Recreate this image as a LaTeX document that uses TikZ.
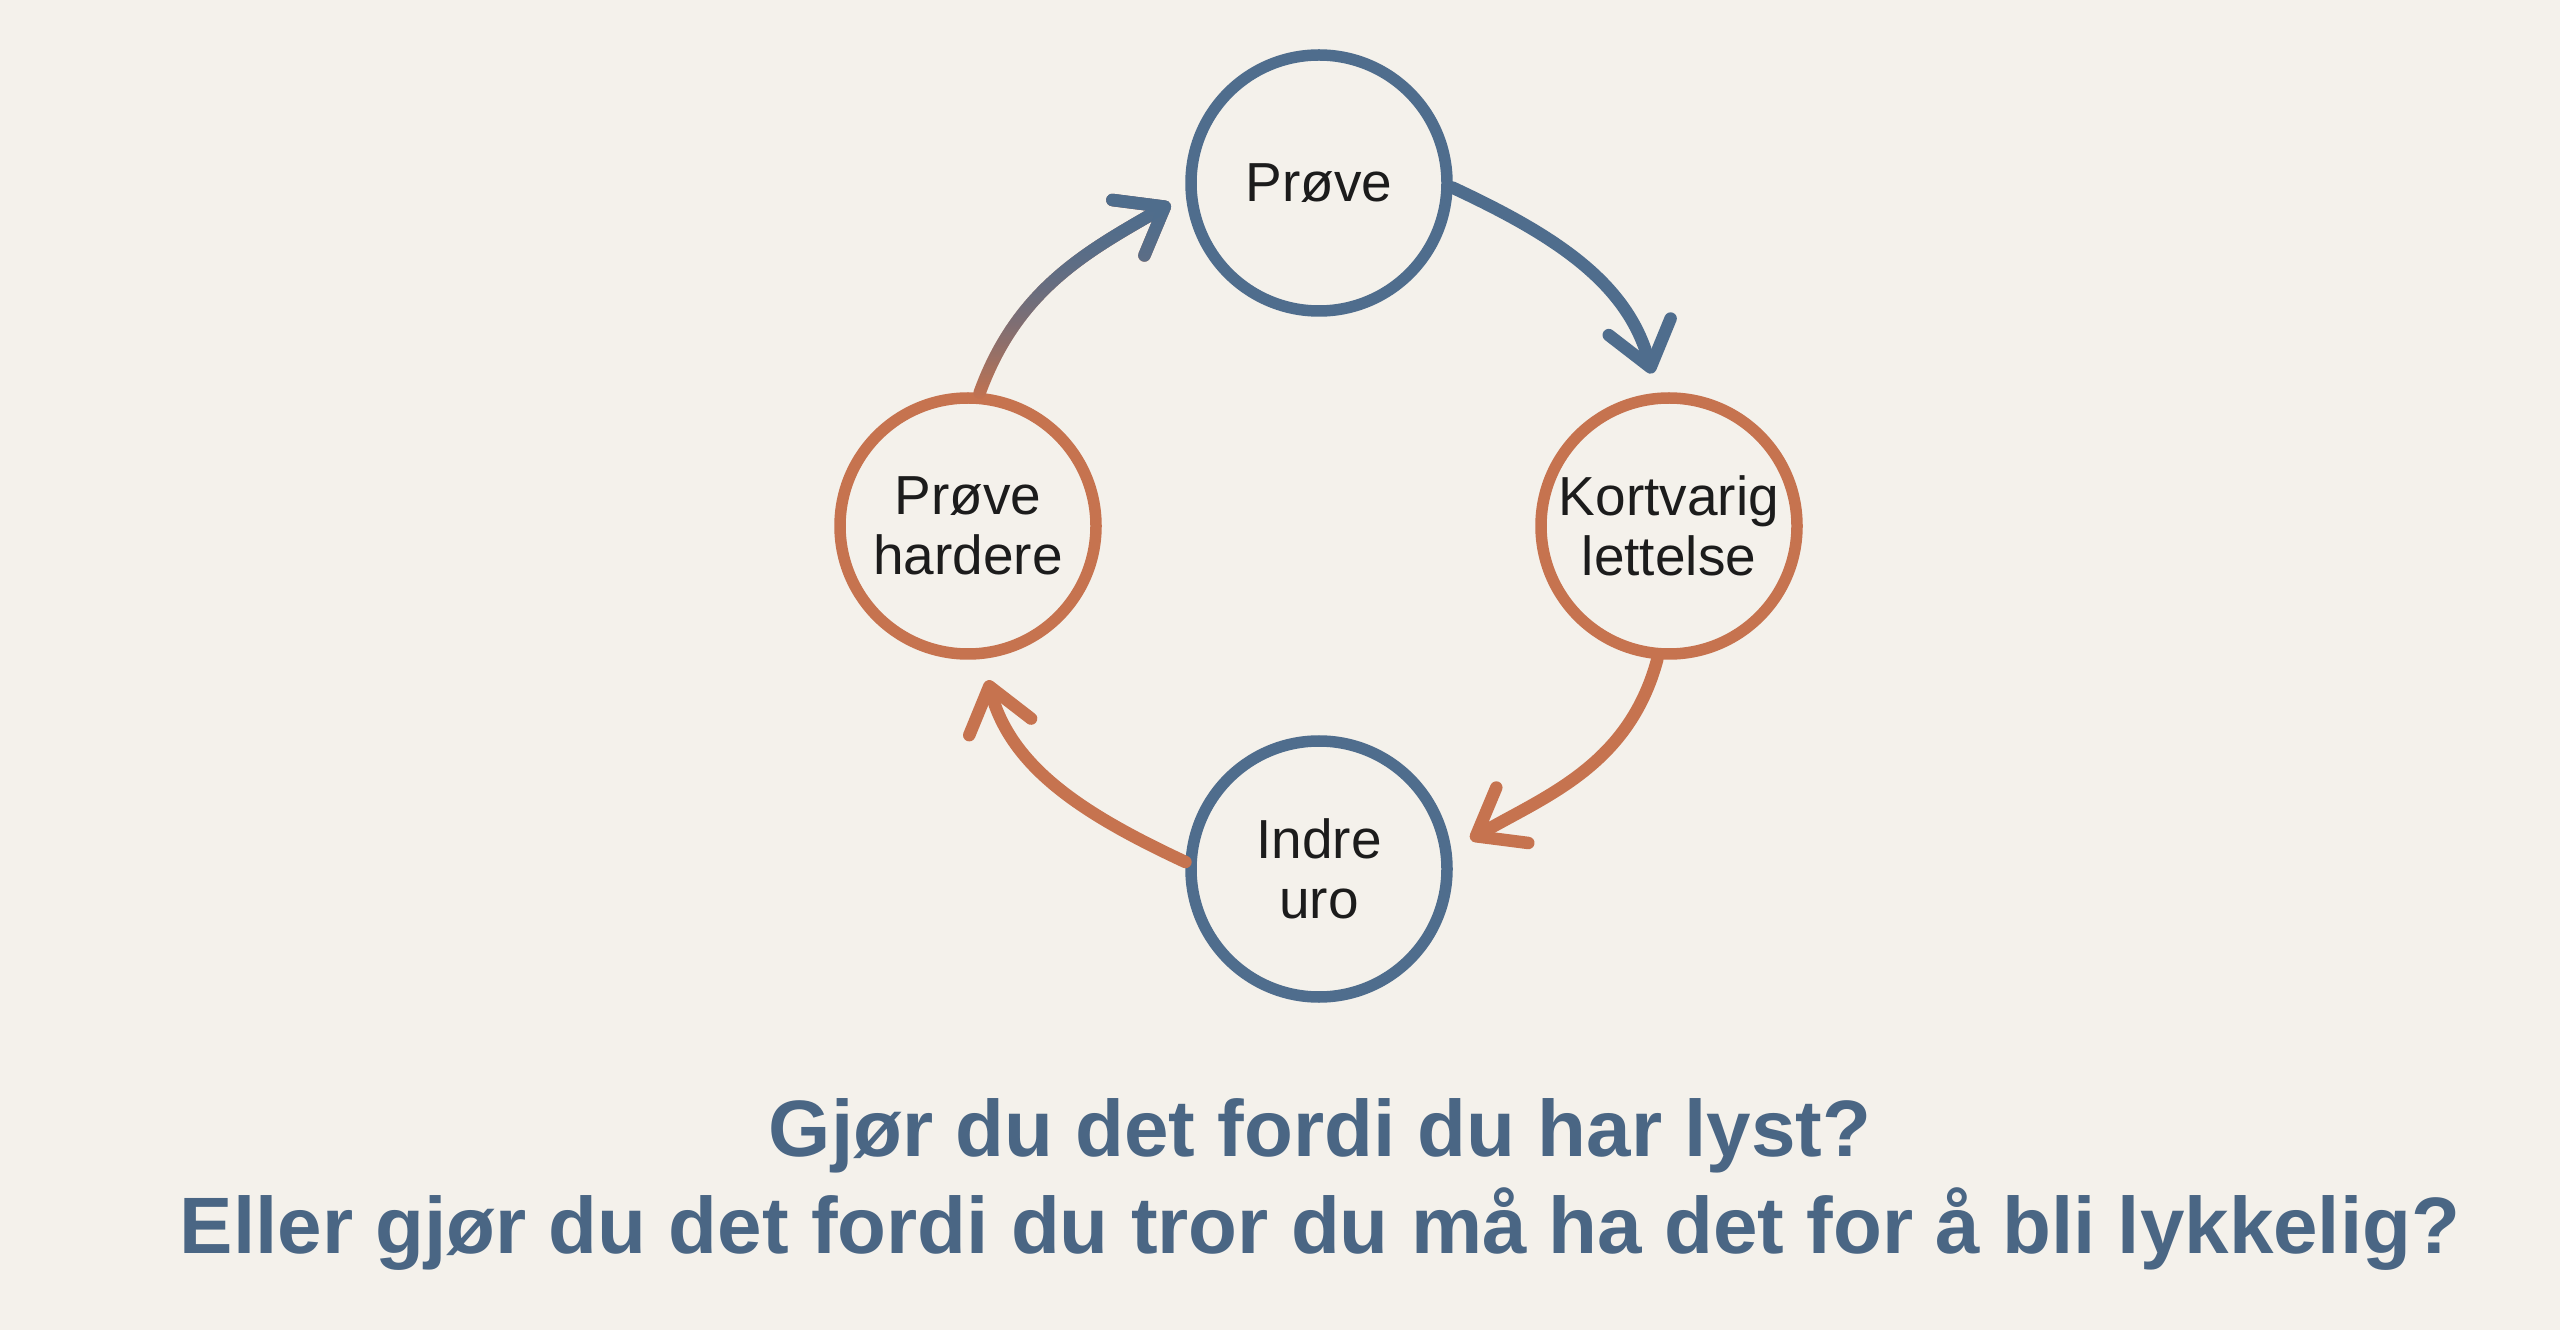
\documentclass[tikz,border=0pt]{standalone}
\usepackage{fontspec}
\setmainfont{Liberation Sans}
\usetikzlibrary{arrows.meta,fadings}
\definecolor{bgc}{HTML}{F4F1EB}
\definecolor{bluec}{HTML}{4F6D8D}
\definecolor{orangec}{HTML}{C6734F}
\definecolor{titlec}{HTML}{4A6684}
\definecolor{txtc}{HTML}{1C1C1C}
\tikzfading[name=fadeup, bottom color=transparent!100, middle color=transparent!0, top color=transparent!0]
\begin{document}
\begin{tikzpicture}[x=0.5pt,y=0.5pt,
  state/.style={circle, draw, line width=5.75pt, minimum size=128pt, inner sep=0pt, align=center,
    font=\fontsize{27.5}{30}\selectfont, text=txtc},
  bstate/.style={state, draw=bluec},
  ostate/.style={state, draw=orangec},
  arr/.style={line width=6.25pt, line cap=round, -{Straight Barb[length=21pt,width=32pt,round]}},
  title/.style={font=\bfseries\fontsize{40}{48}\selectfont, text=titlec, anchor=base}]
\fill[bgc] (0,0) rectangle (2560,1330);
\useasboundingbox (0,0) rectangle (2560,1330);

\node[bstate] (P) at (1319,1147) {Prøve};
\node[ostate] (K) at (1669,804) {Kortvarig\\lettelse};
\node[bstate] (I) at (1319,461) {Indre\\uro};
\node[ostate] (H) at (968,804) {Prøve\\hardere};

\draw[arr, bluec, shorten >=10pt] (P.-2) to[out=-25,in=105] (K.95);
\draw[arr, orangec, shorten >=11pt] (K.-95) to[out=-105,in=30] (I.8);
\draw[arr, orangec, shorten >=11pt] (I.177) to[out=155,in=-75] (H.-84);
\draw[arr, orangec, shorten >=9pt] (H.85) to[out=70,in=-150] (P.185);
\draw[arr, bluec, shorten >=9pt, path fading=fadeup, fit fading=true] (H.85) to[out=70,in=-150] (P.185);
\draw[arr, bluec, shorten >=9pt, path fading=fadeup, fit fading=true] (H.85) to[out=70,in=-150] (P.185);

\node[title] (t1) at (1320,174) {Gjør du det fordi du har lyst?};
\node[title] (t2) at (1320,77) {Eller gjør du det fordi du tror du må ha det for å bli lykkelig?};
\end{tikzpicture}
\end{document}
